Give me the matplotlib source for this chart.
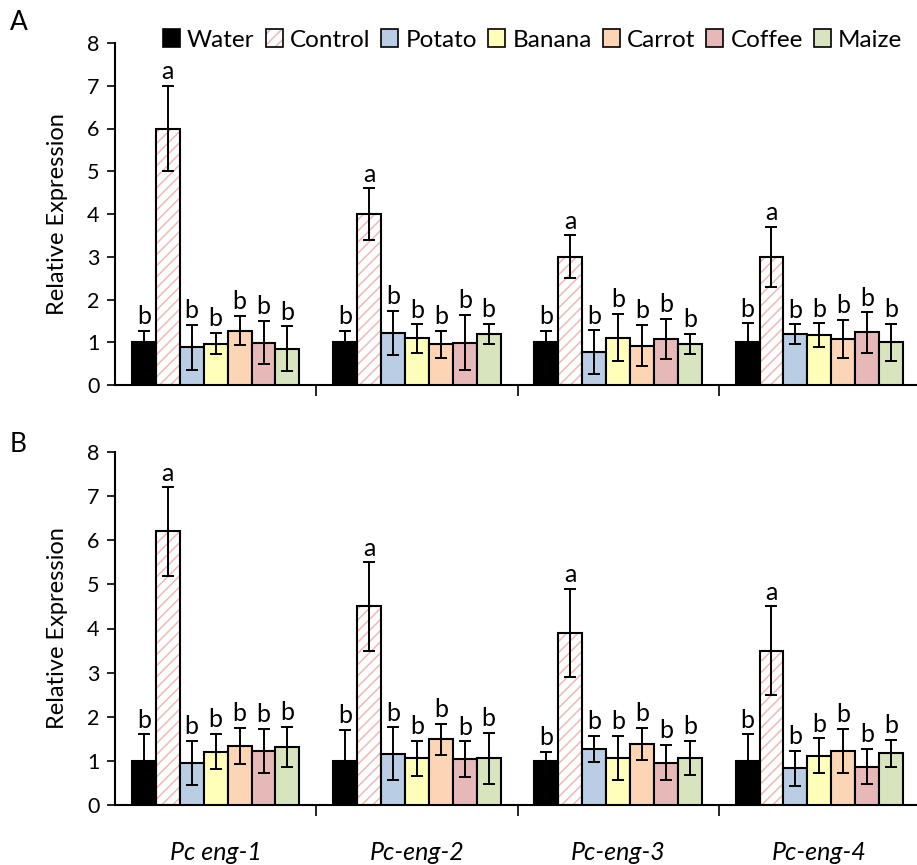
import numpy as np
import matplotlib
matplotlib.use('Agg')
import matplotlib.pyplot as plt
from matplotlib.patches import Patch

plt.rcParams['font.family'] = ['Lato', 'DejaVu Sans']
plt.rcParams['hatch.linewidth'] = 1.1

##################################################################
## Data ##########################################################
##################################################################

genes = ['Pc eng-1', 'Pc-eng-2', 'Pc-eng-3', 'Pc-eng-4']
treatments = ['Water', 'Control', 'Potato', 'Banana', 'Carrot', 'Coffee', 'Maize']
colors = ['#000000', '#FFFFFF', '#B9CDE5', '#FFFFB9', '#FCD5B5', '#E6B9B8', '#D7E4BD']
letters = ['b', 'a', 'b', 'b', 'b', 'b', 'b']

# panel A - means per treatment (across genes)
A_water = [1.0, 1.0, 1.0, 1.0]
A_control = [6.0, 4.0, 3.0, 3.0]
A_potato = [0.88, 1.22, 0.77, 1.19]
A_banana = [0.97, 1.09, 1.11, 1.17]
A_carrot = [1.27, 0.95, 0.92, 1.07]
A_coffee = [0.99, 0.99, 1.08, 1.23]
A_maize = [0.85, 1.19, 0.96, 1.0]

A_water_err = [0.27, 0.26, 0.27, 0.44]
A_control_err = [1.0, 0.6, 0.5, 0.7]
A_potato_err = [0.52, 0.51, 0.51, 0.23]
A_banana_err = [0.25, 0.33, 0.56, 0.27]
A_carrot_err = [0.34, 0.31, 0.48, 0.45]
A_coffee_err = [0.51, 0.65, 0.47, 0.47]
A_maize_err = [0.52, 0.24, 0.23, 0.43]

# panel B
B_water = [1.0, 1.0, 1.0, 1.0]
B_control = [6.2, 4.5, 3.9, 3.5]
B_potato = [0.96, 1.16, 1.27, 0.83]
B_banana = [1.21, 1.06, 1.07, 1.12]
B_carrot = [1.34, 1.49, 1.38, 1.22]
B_coffee = [1.23, 1.04, 0.96, 0.87]
B_maize = [1.32, 1.06, 1.07, 1.17]

B_water_err = [0.6, 0.7, 0.2, 0.6]
B_control_err = [1.0, 1.0, 1.0, 1.0]
B_potato_err = [0.5, 0.6, 0.3, 0.4]
B_banana_err = [0.4, 0.4, 0.5, 0.39]
B_carrot_err = [0.4, 0.35, 0.37, 0.5]
B_coffee_err = [0.5, 0.4, 0.4, 0.4]
B_maize_err = [0.45, 0.58, 0.38, 0.3]

A_means = [A_water, A_control, A_potato, A_banana, A_carrot, A_coffee, A_maize]
A_errs = [A_water_err, A_control_err, A_potato_err, A_banana_err, A_carrot_err, A_coffee_err, A_maize_err]
B_means = [B_water, B_control, B_potato, B_banana, B_carrot, B_coffee, B_maize]
B_errs = [B_water_err, B_control_err, B_potato_err, B_banana_err, B_carrot_err, B_coffee_err, B_maize_err]

hatch_col = '#F0B8B8'

##################################################################
## Plot ##########################################################
##################################################################

def draw_panel(ax, means, errs, show_labels):
    x = np.arange(len(genes))
    w = 0.119
    n = len(treatments)
    for i in range(n):
        pos = x + (i - (n - 1) / 2) * w
        if treatments[i] == 'Control':
            ax.bar(pos, means[i], w, color='white', edgecolor=hatch_col,
                   hatch='///', linewidth=0, zorder=2)
            ax.bar(pos, means[i], w, fill=False, edgecolor='black',
                   linewidth=1.5, zorder=3)
        else:
            ax.bar(pos, means[i], w, color=colors[i], edgecolor='black',
                   linewidth=1.5, zorder=3)
        ax.errorbar(pos, means[i], yerr=errs[i], fmt='none', ecolor='black',
                    elinewidth=1.4, capsize=4.5, capthick=1.4, zorder=4)
        for p, m, e in zip(pos, means[i], errs[i]):
            ax.annotate(letters[i], (p, m + e), xytext=(0, 2),
                        textcoords='offset points', ha='center', va='bottom',
                        fontsize=18)

    ax.set_xlim(-0.5, 3.5)
    ax.set_ylim(0, 8)
    ax.set_yticks(range(0, 9))
    ax.tick_params(axis='y', labelsize=15.5, direction='out', length=6, width=1.2, pad=5)
    ax.set_xticks([0.5, 1.5, 2.5])
    ax.set_xticklabels([])
    ax.tick_params(axis='x', which='major', direction='out', length=8, width=1.2)
    ax.set_xticks(x, minor=True)
    if show_labels:
        ax.set_xticklabels(genes, minor=True, fontsize=18, style='italic')
    ax.tick_params(axis='x', which='minor', length=0, pad=26)
    for s in ['top', 'right']:
        ax.spines[s].set_visible(False)
    for s in ['left', 'bottom']:
        ax.spines[s].set_linewidth(1.5)
    ax.set_ylabel('Relative Expression', fontsize=17, labelpad=14)


fig = plt.figure(figsize=(9.17, 8.65), dpi=100)
axA = fig.add_axes([115/917, 1-385/865, 805/917, 342/865])
axB = fig.add_axes([115/917, 1-805/865, 805/917, 353/865])

draw_panel(axA, A_means, A_errs, False)
draw_panel(axB, B_means, B_errs, True)

fig.text(10/917, 1-22/865, 'A', fontsize=19, va='center')
fig.text(10/917, 1-445/865, 'B', fontsize=19, va='center')

handles = []
for i in range(len(treatments)):
    if treatments[i] == 'Control':
        handles.append((Patch(facecolor='white', edgecolor=hatch_col, hatch='///', linewidth=0),
                        Patch(fill=False, edgecolor='black', linewidth=1.2)))
    else:
        handles.append(Patch(facecolor=colors[i], edgecolor='black', linewidth=1.2))

fig.legend(handles, treatments, loc='center right', bbox_to_anchor=(1.0, 1-40/865),
           ncol=7, frameon=False, fontsize=17.5, handlelength=0.7, handleheight=0.7,
           handletextpad=0.3, columnspacing=0.45, borderaxespad=0.2)

plt.savefig('out.png', dpi=100)
